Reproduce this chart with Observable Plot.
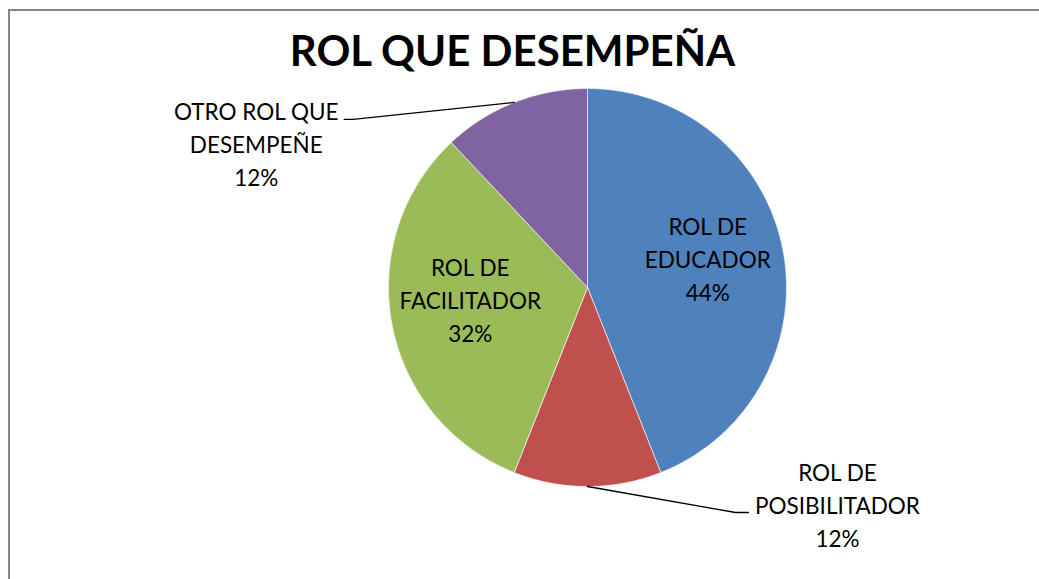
<!DOCTYPE html>
<html>
<head>
<meta charset="utf-8">
<script src="https://cdn.jsdelivr.net/npm/d3@7"></script>
<script src="https://cdn.jsdelivr.net/npm/@observablehq/plot@0.6"></script>
<style>
  html, body { margin: 0; padding: 0; background: #fff; }
  #wrap { position: relative; width: 1039px; height: 579px; overflow: hidden; }
  #frame { position: absolute; left: 8px; top: 9px; width: 1100px; height: 700px;
           border-left: 2px solid #868686; border-top: 2px solid #868686; box-sizing: border-box; }
  #chart { position: absolute; left: 0; top: 0; }
</style>
</head>
<body>
<div id="wrap"><div id="frame"></div><div id="chart"></div></div>
<script>
// ---- data ----
const title = "ROL QUE DESEMPEÑA";
const categories = ["ROL DE EDUCADOR", "ROL DE POSIBILITADOR", "ROL DE FACILITADOR", "OTRO ROL QUE DESEMPEÑE"];
const labelNames = ["ROL DE\nEDUCADOR", "ROL DE\nPOSIBILITADOR", "ROL DE\nFACILITADOR", "OTRO ROL QUE\nDESEMPEÑE"];
const shares = [44, 12, 32, 12];
const colors = ["#4F81BD", "#C0504D", "#9BBB59", "#8064A2"];

// ---- layout (styles, not data) ----
const W = 1039, H = 579;
const CX = 587, CY = 287, R = 199;           // pie center & radius in px
const FONT = "Lato, 'Open Sans', sans-serif";
const labelSize = 22.5;
// inside labels: radius factor and small pixel nudge
const insideLayout = {
  "ROL DE EDUCADOR": {r: 0.61, dx: 1, dy: -7},
  "ROL DE FACILITADOR": {r: 0.61, dx: 2, dy: -12}
};
// outside labels: pixel offsets from the arc point at the slice's mid angle
const outsideLayout = {
  "ROL DE POSIBILITADOR": {knee: [148, 26], tail: 13, label: [250, 17]},
  "OTRO ROL QUE DESEMPEÑE": {knee: [-161, 17], tail: -9, label: [-258, 40]}
};

const rows = categories.map((c, i) => ({name: c, label: labelNames[i], value: shares[i]}));
const arcs = d3.pie().sort(null).value(d => d.value).startAngle(0).endAngle(2 * Math.PI)(rows);

// slice polygons in unit coordinates (y up)
const slicePts = [];
for (const a of arcs) {
  const n = a.data.name;
  slicePts.push({name: n, x: 0, y: 0});
  const steps = Math.max(2, Math.ceil((a.endAngle - a.startAngle) / (Math.PI / 360)));
  for (let k = 0; k <= steps; k++) {
    const t = a.startAngle + (a.endAngle - a.startAngle) * k / steps;
    slicePts.push({name: n, x: Math.sin(t), y: Math.cos(t)});
  }
  slicePts.push({name: n, x: 0, y: 0});
}

const labels = [];
const leaders = [];
for (const a of arcs) {
  const n = a.data.name;
  const mid = (a.startAngle + a.endAngle) / 2;
  const txt = `${a.data.label}\n${a.data.value}%`;
  if (insideLayout[n]) {
    const L = insideLayout[n];
    labels.push({text: txt, x: Math.sin(mid) * L.r + L.dx / R, y: Math.cos(mid) * L.r - L.dy / R});
  } else {
    const L = outsideLayout[n];
    const ax = Math.sin(mid), ay = Math.cos(mid);
    const kx = ax + L.knee[0] / R, ky = ay - L.knee[1] / R;
    leaders.push({id: n, x: ax, y: ay}, {id: n, x: kx, y: ky}, {id: n, x: kx + L.tail / R, y: ky});
    labels.push({text: txt, x: ax + L.label[0] / R, y: ay - L.label[1] / R});
  }
}

const chart = Plot.plot({
  width: W, height: H,
  margin: 0,
  style: {background: "transparent", fontFamily: FONT},
  x: {domain: [-1, 1], range: [CX - R, CX + R], axis: null},
  y: {domain: [-1, 1], range: [CY + R, CY - R], axis: null},
  color: {domain: categories, range: colors},
  marks: [
    Plot.line(slicePts, {x: "x", y: "y", z: "name", fill: "name", stroke: "#fff", strokeWidth: 0.6, curve: "linear"}),
    Plot.line(leaders, {x: "x", y: "y", z: "id", stroke: "#000", strokeWidth: 1.3}),
    Plot.text(labels, {x: "x", y: "y", text: "text", fontSize: labelSize, lineHeight: 33 / labelSize,
      lineAnchor: "middle", textAnchor: "middle", fill: "#000", fontFamily: FONT}),
    Plot.text([title], {frameAnchor: "top", text: d => d, dx: -7.5, dy: 52, lineAnchor: "middle",
      fontSize: 42, fontWeight: "bold", fill: "#000", fontFamily: FONT})
  ]
});
document.getElementById("chart").appendChild(chart);
</script>
</body>
</html>
